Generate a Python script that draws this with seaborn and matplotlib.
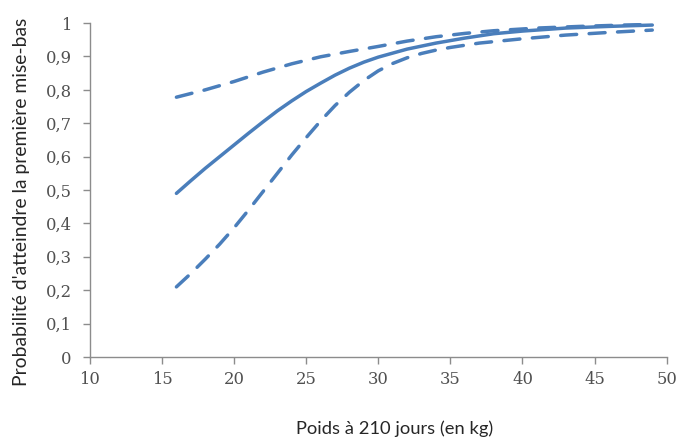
import matplotlib
matplotlib.use("Agg")
import matplotlib.pyplot as plt
import seaborn as sns
import pandas as pd
from matplotlib.ticker import FuncFormatter

# Data
poids_mean = [16, 17, 18, 19, 20, 21, 22, 23, 24, 25, 26, 27, 28, 29, 30, 32, 34, 36, 38, 40, 43, 46, 49]
prob_mean = [0.49, 0.528, 0.565, 0.60, 0.635, 0.67, 0.704, 0.737, 0.767, 0.795, 0.82, 0.844, 0.865, 0.883, 0.898,
             0.922, 0.94, 0.955, 0.968, 0.976, 0.985, 0.99, 0.994]

poids_upper = [16, 18, 20, 22, 24, 26, 28, 30, 32, 34, 36, 38, 41, 44, 47, 49]
prob_upper = [0.778, 0.80, 0.825, 0.853, 0.878, 0.899, 0.915, 0.93, 0.946, 0.959, 0.969, 0.977, 0.985, 0.99, 0.994, 0.996]

poids_lower = [16, 17, 18, 19, 20, 21, 22, 23, 24, 25, 26, 27, 28, 29, 30, 31, 32, 33, 34, 35, 37, 40, 43, 46, 49]
prob_lower = [0.21, 0.25, 0.293, 0.338, 0.387, 0.44, 0.495, 0.55, 0.605, 0.657, 0.707, 0.753, 0.793, 0.828, 0.857,
              0.879, 0.896, 0.909, 0.919, 0.927, 0.94, 0.953, 0.964, 0.972, 0.979]

x_ticks = [10, 15, 20, 25, 30, 35, 40, 45, 50]
y_ticks = [0, 0.1, 0.2, 0.3, 0.4, 0.5, 0.6, 0.7, 0.8, 0.9, 1.0]

x_label = "Poids à 210 jours (en kg)"
y_label = "Probabilité d'atteindre la première mise-bas"

df_mean = pd.DataFrame({"poids": poids_mean, "prob": prob_mean})
df_upper = pd.DataFrame({"poids": poids_upper, "prob": prob_upper})
df_lower = pd.DataFrame({"poids": poids_lower, "prob": prob_lower})

sns.set_theme(style="white")
color = "#4a7ebb"

fig = plt.figure(figsize=(6.81, 4.40), dpi=100)
ax = fig.add_axes([0.132, 0.1886, 0.847, 0.759])

lw = 2.5
sns.lineplot(data=df_mean, x="poids", y="prob", ax=ax, color=color, lw=lw)
sns.lineplot(data=df_upper, x="poids", y="prob", ax=ax, color=color, lw=lw)
sns.lineplot(data=df_lower, x="poids", y="prob", ax=ax, color=color, lw=lw)
for line in ax.lines[1:]:
    line.set_dashes((4.6, 3.6))
    line.set_dash_capstyle("round")
for line in ax.lines:
    line.set_solid_joinstyle("round")

ax.set_xlim(10, 50)
ax.set_ylim(0, 1)
ax.set_xticks(x_ticks)
ax.set_yticks(y_ticks)
ax.yaxis.set_major_formatter(FuncFormatter(lambda v, p: ("%g" % round(v, 1)).replace(".", ",")))

for s in ["top", "right"]:
    ax.spines[s].set_visible(False)
for s in ["left", "bottom"]:
    ax.spines[s].set_color("#8c8c8c")
    ax.spines[s].set_linewidth(1.0)

ax.tick_params(axis="both", bottom=True, left=True, direction="out", length=5, width=1,
               color="#8c8c8c", labelsize=11.8, labelcolor="#505050", pad=5)
ax.tick_params(axis="y", pad=8)
for lab in ax.get_xticklabels() + ax.get_yticklabels():
    lab.set_family("DejaVu Serif")
    lab.set_fontsize(11.8)

ax.set_xlabel(x_label, family="Lato", fontsize=13.2, color="#262626", va="center")
ax.set_ylabel(y_label, family="Lato", fontsize=13.9, color="#262626", va="center")
ax.xaxis.set_label_coords(0.529, -0.216)
ax.yaxis.set_label_coords(-0.118, 0.464)

fig.savefig("out.png", dpi=100)
